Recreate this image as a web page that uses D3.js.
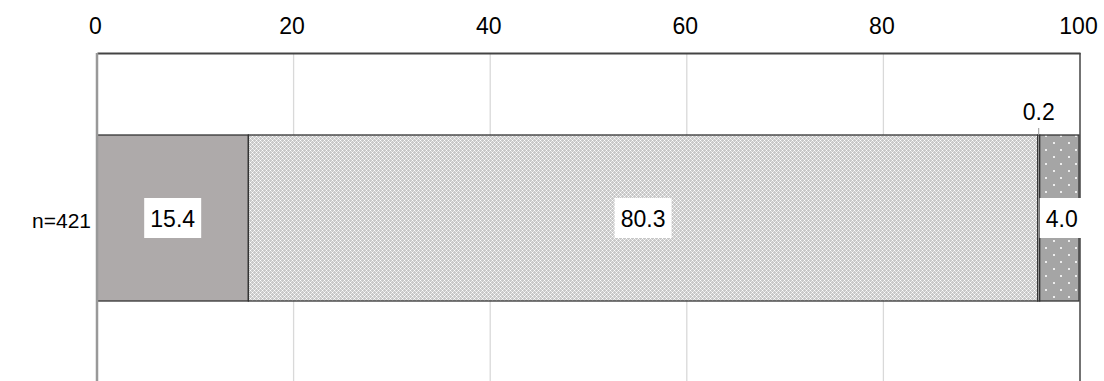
<!DOCTYPE html>
<html><head><meta charset="utf-8">
<script src="https://cdn.jsdelivr.net/npm/d3@7"></script>
<style>body{margin:0;background:#fff}svg{display:block}text{font-family:"Liberation Sans",Arial,sans-serif}</style>
</head><body>
<svg id="c" width="1104" height="381"></svg>
<script>
const categories = ["n=421"];
const seriesNames = ["s1","s2","s3","s4"];
const seriesValues = [15.4, 80.3, 0.2, 4.0];
const valueLabels = ["15.4","80.3","0.2","4.0"];
const tickValues = [0,20,40,60,80,100];

const FS = 23;
const svg = d3.select("#c");
const defs = svg.append("defs");
const p1 = defs.append("pattern").attr("id","hatch").attr("patternUnits","userSpaceOnUse").attr("width",4).attr("height",4);
p1.append("rect").attr("width",4).attr("height",4).attr("fill","#c8c8c8");
[[0,0,"#ffffff"],[2,2,"#ffffff"],[1,1,"#e8e8e8"],[3,3,"#e8e8e8"],[1,3,"#e8e8e8"],[3,1,"#e8e8e8"]].forEach(([a,b,c])=>{
  p1.append("rect").attr("x",a).attr("y",b).attr("width",1).attr("height",1).attr("fill",c);
});
const p2 = defs.append("pattern").attr("id","dots").attr("patternUnits","userSpaceOnUse").attr("width",15).attr("height",14).attr("x",3).attr("y",2);
p2.append("rect").attr("width",15).attr("height",14).attr("fill","#a5a5a5");
[[0,0],[7,7]].forEach(([a,b])=>{
  p2.append("rect").attr("x",a).attr("y",b).attr("width",2).attr("height",2).attr("fill","#ececec");
});

const fills = ["#aeaaaa","url(#hatch)","#cfcfcf","url(#dots)"];

const x = d3.scaleLinear().domain([0,100]).range([97,1080]);
const y = d3.scaleBand().domain(categories).range([53,383]).paddingInner(0).paddingOuter(0.494);

svg.append("g").selectAll("line").data(tickValues.filter(d=>d>0&&d<100)).join("line")
  .attr("x1",d=>x(d)).attr("x2",d=>x(d)).attr("y1",53).attr("y2",381)
  .attr("stroke","#d9d9d9").attr("stroke-width",1.3);

const ax = svg.append("g").attr("transform","translate(0,53)").call(d3.axisTop(x).tickValues(tickValues).tickSize(0).tickPadding(19));
ax.attr("font-size",FS).attr("font-family",null);
ax.select(".domain").attr("stroke","#444").attr("stroke-width",2);
ax.selectAll("text").attr("fill","#000").attr("dx",-2);

let cum = 0;
const segs = seriesValues.map((v,i)=>{const s={x0:cum,x1:cum+v,v,i,lab:valueLabels[i]}; cum+=v; return s;});
const cat = categories[0];
const by = y(cat), bh = y.bandwidth();
svg.append("g").selectAll("rect").data(segs).join("rect")
  .attr("x",d=>x(d.x0)).attr("y",by).attr("width",d=>x(d.x1)-x(d.x0)).attr("height",bh)
  .attr("fill",d=>fills[d.i]).attr("stroke","#333").attr("stroke-width",1.3);

svg.append("line").attr("x1",x(0)).attr("x2",x(0)).attr("y1",53).attr("y2",381).attr("stroke","#999").attr("stroke-width",2.5);
svg.append("line").attr("x1",x(100)).attr("x2",x(100)).attr("y1",53).attr("y2",381).attr("stroke","#444").attr("stroke-width",1.5);

svg.append("text").attr("x",91).attr("y",by+bh/2+2).attr("text-anchor","end").attr("dominant-baseline","central")
  .attr("font-size",21).text(cat);

const cy = by+bh/2;
segs.forEach(d=>{
  if (d.v < 1) {
    const mx = x((d.x0+d.x1)/2);
    svg.append("line").attr("x1",mx).attr("x2",mx).attr("y1",by-7).attr("y2",by).attr("stroke","#999").attr("stroke-width",1);
    svg.append("text").attr("x",mx).attr("y",by-23).attr("text-anchor","middle").attr("dominant-baseline","central")
      .attr("font-size",FS).text(d.lab);
    return;
  }
  const mx = d.i===3 ? x(d.x0)+21 : x((d.x0+d.x1)/2);
  const w = d.i===3 ? 42 : 57;
  svg.append("rect").attr("x",mx-w/2).attr("y",cy-20).attr("width",w).attr("height",40).attr("fill","#fff");
  svg.append("text").attr("x",mx + (d.i===3?1:0)).attr("y",cy+1).attr("text-anchor","middle").attr("dominant-baseline","central")
    .attr("font-size",FS).text(d.lab);
});
</script>
</body></html>
